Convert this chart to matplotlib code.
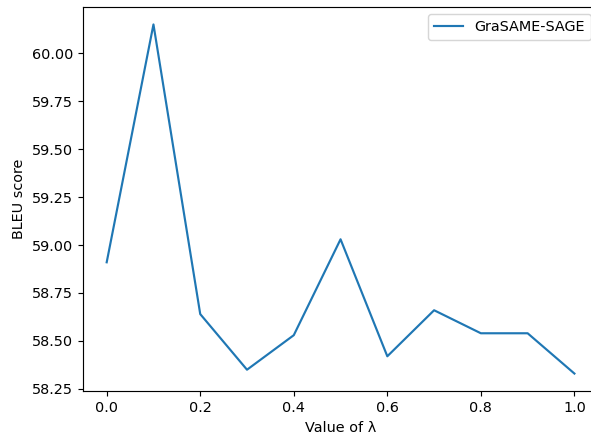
import matplotlib
matplotlib.use("Agg")
import matplotlib.pyplot as plt

# values
lambdas = [0.0, 0.1, 0.2, 0.3, 0.4, 0.5, 0.6, 0.7, 0.8, 0.9, 1.0]
bleu = [58.91, 60.15, 58.64, 58.35, 58.53, 59.03, 58.42, 58.66, 58.54, 58.54, 58.33]

dpi = 103.5
fig = plt.figure(figsize=(591 / dpi, 442 / dpi), dpi=dpi)
ax = fig.add_axes([83.3 / 591, 51 / 442, 514.5 / 591, 384 / 442])
ax.plot(lambdas, bleu, label='GraSAME-SAGE')
ax.set_xlabel('Value of λ')
ax.set_ylabel('BLEU score')
ax.legend(loc='upper right')
# the reference is cropped on the right, so its right border is off-canvas
ax.spines['right'].set_visible(False)

plt.savefig('out.png', dpi=dpi)
